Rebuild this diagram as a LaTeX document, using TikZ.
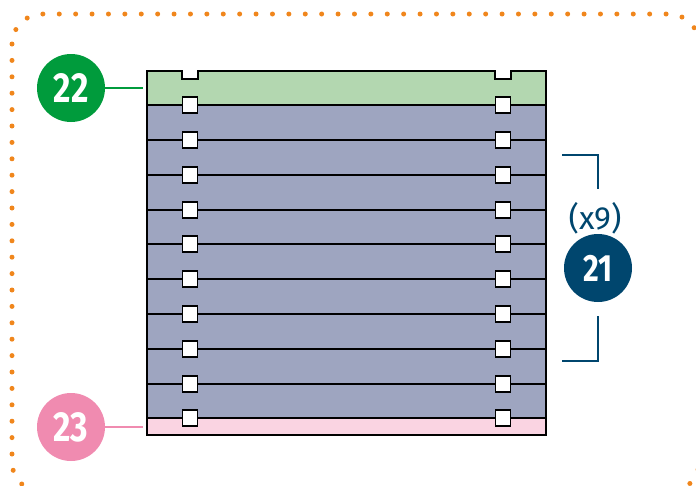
\documentclass[tikz,border=0pt]{standalone}
\usepackage{fontspec}
\setmainfont{Fira Sans}
\usetikzlibrary{calc}
\definecolor{dotorange}{HTML}{F0861C}
\definecolor{lgreen}{HTML}{B3D7B0}
\definecolor{lblue}{HTML}{9EA5C0}
\definecolor{lpink}{HTML}{FAD4E2}
\definecolor{cgreen}{HTML}{009B3C}
\definecolor{cpink}{HTML}{F08BB0}
\definecolor{cblue}{HTML}{00466E}
\tikzset{
  sq/.style={draw=black, fill=white, line width=1.8pt, minimum width=15pt, minimum height=16pt, inner sep=0pt},
  badge/.style={circle, minimum size=68pt, inner sep=0pt, text=white, font=\fontsize{42}{42}\selectfont\bfseries},
  lead/.style={line width=2.2pt},
  layerline/.style={line width=2pt, draw=black},
  brk/.style={draw=cblue, line width=2.2pt},
}
\begin{document}
\begin{tikzpicture}[x=1pt,y=-1pt]
\useasboundingbox (0,0) rectangle (696,485);
% dotted frame
\draw[dotorange, line width=5pt, line cap=round, dash pattern=on 0pt off 16.4pt, rounded corners=30pt]
  (12,14) rectangle (699,492);
% layers
\fill[lgreen] (147,71) rectangle (546,105);
\fill[lblue] (147,105) rectangle (546,418);
\fill[lpink] (147,418) rectangle (546,435);
\fill[white] (182,70) rectangle (198,79);
\fill[white] (495,70) rectangle (511,79);
\foreach \yy in {105,140,175,210,244,279,314,349,384,418} {
  \draw[layerline] (147,\yy) -- (546,\yy);
}
\draw[line width=2pt, line join=miter]
  (147,71) -- (182,71) -- (182,79) -- (198,79) -- (198,71) -- (495,71) -- (495,79) -- (511,79) -- (511,71) -- (546,71) -- (546,435) -- (147,435) -- cycle;
\foreach \yy [count=\i] in {105,140,175,210,244,279,314,349,384,418} {
  \node[sq] (l\i) at (190,\yy) {};
  \node[sq] (r\i) at (503,\yy) {};
}
% badges
\node[badge, fill=cgreen] (b22) at (71,88) {\scalebox{0.8}[1]{22}};
\coordinate (e22) at (143,88);
\draw[lead, cgreen] (b22.east) -- (e22);
\node[badge, fill=cpink] (b23) at (71,427) {\scalebox{0.8}[1]{23}};
\coordinate (e23) at (143,427);
\draw[lead, cpink] (b23.east) -- (e23);
\node[badge, fill=cblue, font=\fontsize{38}{38}\selectfont\bfseries] (b21) at (598,268) {\scalebox{0.8}[1]{21}};
\node[text=cblue, font=\fontsize{32}{32}\selectfont, inner sep=0pt] (x9) at (595,218) {(x9)};
% bracket
\coordinate (bt1) at (562,155);
\coordinate (bt2) at (598,155);
\coordinate (bt3) at (598,189);
\coordinate (bb1) at (598,316);
\coordinate (bb2) at (598,361);
\coordinate (bb3) at (562,361);
\draw[brk] (bt1) -- (bt2) -- (bt3);
\draw[brk] (bb1) -- (bb2) -- (bb3);
\end{tikzpicture}
\end{document}
